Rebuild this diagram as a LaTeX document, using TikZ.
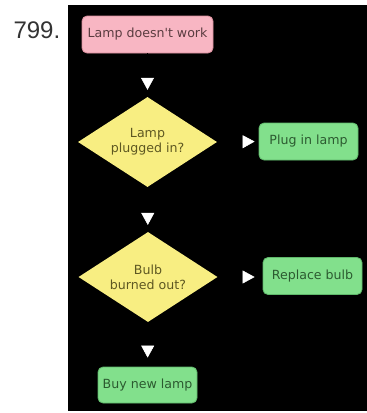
\documentclass[tikz,border=0pt]{standalone}
\usepackage{fontspec}
\setmainfont[Ligatures=TeXOff]{DejaVu Sans}
\newfontfamily\numfont{Liberation Sans}
\usetikzlibrary{shapes.geometric,arrows.meta}
\definecolor{pinkfill}{HTML}{F8B6C3}
\definecolor{pinkdraw}{HTML}{D98E9C}
\definecolor{pinktext}{HTML}{5A3C40}
\definecolor{yelfill}{HTML}{F8EE82}
\definecolor{yeltext}{HTML}{5E5822}
\definecolor{grnfill}{HTML}{82E08C}
\definecolor{grndraw}{HTML}{5FB86A}
\definecolor{grntext}{HTML}{2C5A30}
\tikzset{
  every node/.style={font=\fontsize{12.6}{15}\selectfont, align=center},
  startbox/.style={rectangle, rounded corners=5pt, fill=pinkfill, draw=pinkdraw, line width=0.8pt,
    text=pinktext, minimum width=131pt, minimum height=37pt, inner sep=0pt},
  actbox/.style={rectangle, rounded corners=5pt, fill=grnfill, draw=grndraw, line width=0.8pt,
    text=grntext, minimum width=99pt, minimum height=37pt, inner sep=0pt},
  decbox/.style={diamond, aspect=1.54, fill=yelfill, draw=none,
    text=yeltext, minimum width=139pt, minimum height=90pt, inner sep=0pt},
  flow/.style={draw=black, line width=0.5pt,
    -{Triangle[length=12pt, width=13pt, fill=white, color=white]}},
}
\begin{document}
\begin{tikzpicture}[x=1pt,y=1pt]
\useasboundingbox (0,0) rectangle (367,-413);
\fill[white] (0,0) rectangle (367,-413);
\fill[black] (68,-5) rectangle (367,-411);
\node[anchor=west, text=black!80, font=\numfont\fontsize{24}{28}\selectfont] (num) at (10,-30) {799.};
\node[startbox] (start) at (147.5,-34.5) {Lamp doesn't work};
\node[decbox] (d1) at (147.5,-142) {Lamp\\plugged in?};
\node[actbox] (plug) at (308.5,-141.5) {Plug in lamp};
\node[decbox] (d2) at (148,-277) {Bulb\\burned out?};
\node[actbox] (bulb) at (312.5,-276) {Replace bulb};
\node[actbox, minimum height=36pt] (buy) at (147.5,-385) {Buy new lamp};
\draw[flow, shorten >=7pt] (start) -- (d1);
\draw[flow, shorten >=4pt] (d1.east) -- (plug.west);
\draw[flow, shorten >=7pt] (d1) -- (d2);
\draw[flow, shorten >=8pt] (d2.east) -- (bulb.west |- d2.east);
\draw[flow, shorten >=9pt] (d2) -- (buy);
\end{tikzpicture}
\end{document}
